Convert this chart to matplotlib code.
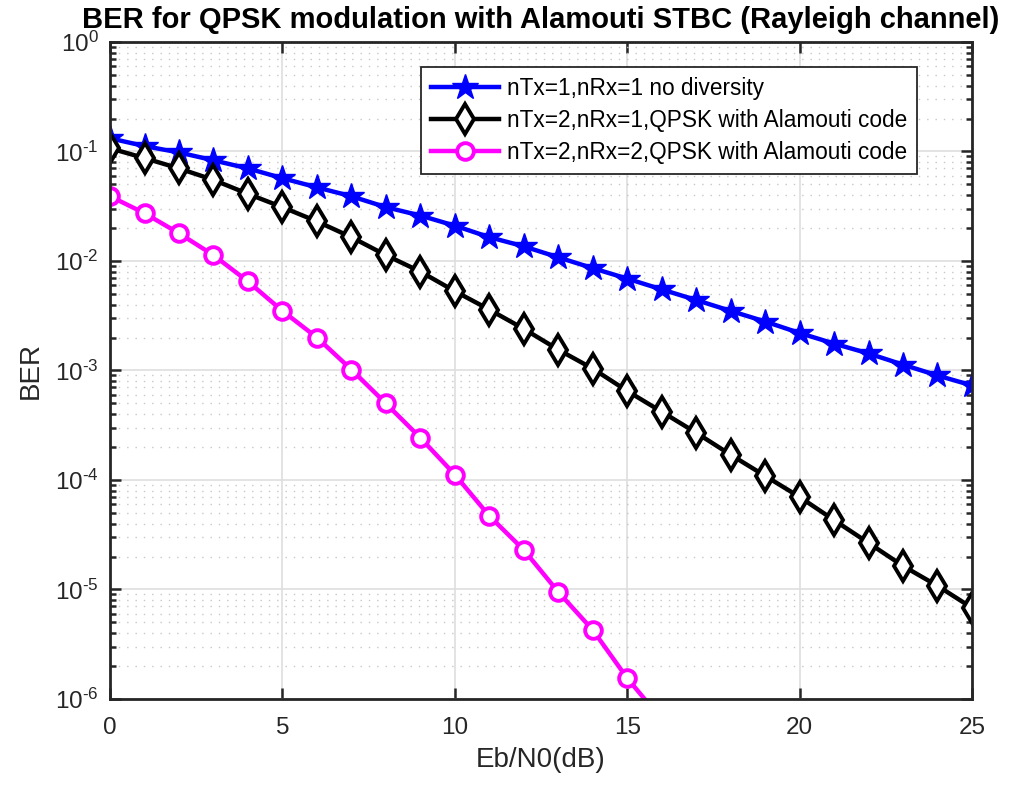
import numpy as np
import matplotlib
matplotlib.use("Agg")
import matplotlib.pyplot as plt
from matplotlib.ticker import LogLocator, NullFormatter, FuncFormatter

plt.rcParams['font.family'] = ['Liberation Sans', 'DejaVu Sans']
plt.rcParams['mathtext.fontset'] = 'custom'
plt.rcParams['mathtext.rm'] = 'Liberation Sans'
plt.rcParams['axes.unicode_minus'] = False

ebn0 = np.arange(0, 26)

ber_1x1 = [0.132, 0.112, 0.098, 0.083, 0.070, 0.057, 0.047, 0.039, 0.031, 0.026,
           0.021, 0.0165, 0.0136, 0.0108, 0.0086, 0.0069, 0.0055, 0.0044, 0.0035,
           0.0028, 0.0022, 0.00176, 0.00143, 0.00113, 0.0009, 0.00073]
ber_2x1 = [0.107, 0.087, 0.070, 0.055, 0.041, 0.031, 0.023, 0.0165, 0.0113, 0.008,
           0.0053, 0.0036, 0.0024, 0.00155, 0.00104, 0.00065, 0.00042, 0.00027,
           0.00017, 0.000109, 7.0e-5, 4.3e-5, 2.66e-5, 1.64e-5, 1.08e-5, 6.8e-6]
ber_2x2 = [0.039, 0.0273, 0.0179, 0.0113, 0.0065, 0.0035, 0.0020, 0.00102, 0.0005,
           0.000243, 0.000112, 4.7e-5, 2.3e-5, 9.5e-6, 4.27e-6, 1.55e-6, 6.5e-7]

labels = ["nTx=1,nRx=1 no diversity",
          "nTx=2,nRx=1,QPSK with Alamouti code",
          "nTx=2,nRx=2,QPSK with Alamouti code"]

dark = (0.15, 0.15, 0.15)


def pow10(v, pos):
    e = int(round(np.log10(v)))
    if e < 0:
        return r'$\mathdefault{10^{\text{-}%d}}$' % (-e)
    return r'$\mathdefault{10^{%d}}$' % e


fig = plt.figure(figsize=(10.15, 7.86), dpi=100)
ax = fig.add_axes([0.1084, 0.1107, 0.8492, 0.8359])

ax.semilogy(ebn0, ber_1x1, '-*', color='blue', lw=3.2, ms=19, mfc='blue', mec='blue', label=labels[0])
ax.semilogy(ebn0, ber_2x1, '-d', color='black', lw=3.2, ms=15, mfc='white', mec='black', mew=2.8, label=labels[1])
ax.semilogy(ebn0[:len(ber_2x2)], ber_2x2, '-o', color='magenta', lw=3.2, ms=12, mfc='white',
            mec='magenta', mew=2.8, label=labels[2])

ax.set_xlim(0, 25)
ax.set_ylim(1e-6, 1)
ax.set_xticks([0, 5, 10, 15, 20, 25])
ax.yaxis.set_major_locator(LogLocator(base=10, numticks=10))
ax.yaxis.set_major_formatter(FuncFormatter(pow10))
ax.yaxis.set_minor_locator(LogLocator(base=10, subs=np.arange(2, 10), numticks=20))
ax.yaxis.set_minor_formatter(NullFormatter())

ax.grid(True, which='major', color=(0.87, 0.87, 0.87), lw=1.2)
ax.grid(True, which='minor', axis='y', color=(0.78, 0.78, 0.78), lw=1.0, ls=(0, (1, 5)))
ax.set_axisbelow(True)

ax.tick_params(which='both', direction='in', top=True, right=True, colors=dark,
               labelsize=17.5, width=1.8)
ax.tick_params(which='major', length=8, pad=13)
ax.tick_params(which='minor', length=4.5)
ax.tick_params(axis='y', which='major', pad=8)
for s in ax.spines.values():
    s.set_linewidth(2)
    s.set_color(dark)

ax.set_xlabel("Eb/N0(dB)", fontsize=20, color=dark, labelpad=6)
ax.set_ylabel("BER", fontsize=20, color=dark, labelpad=8)
ax.set_title("BER for QPSK modulation with Alamouti STBC (Rayleigh channel)",
             fontsize=21, fontweight='bold', pad=10)

leg = ax.legend(loc='upper right', bbox_to_anchor=(0.9364, 0.9625), fontsize=16.3,
                fancybox=False, framealpha=1, edgecolor=dark, handlelength=3.0,
                borderpad=0.45, labelspacing=0.4, handletextpad=0.35, borderaxespad=0)
leg.get_frame().set_linewidth(1.3)

fig.savefig("out.png", dpi=100)
